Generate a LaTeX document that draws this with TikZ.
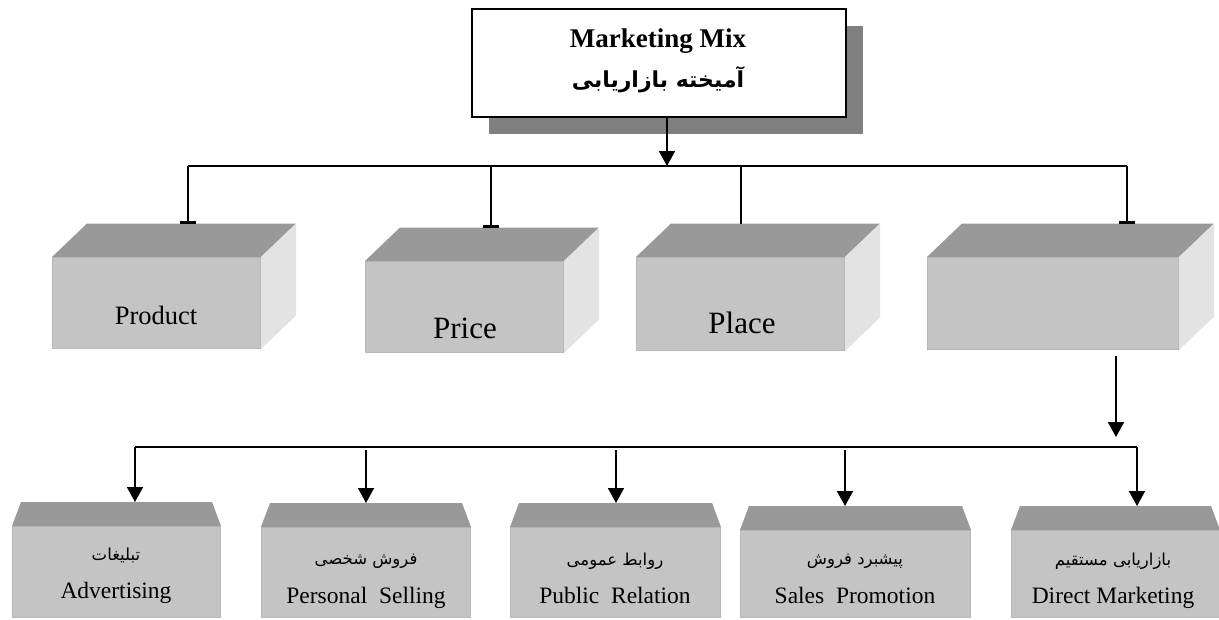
\documentclass[tikz,border=0pt]{standalone}
\usepackage{fontspec}
\setmainfont{Liberation Serif}
\newfontfamily\fa[Script=Arabic]{DejaVu Sans}
\TeXXeTstate=1
\usetikzlibrary{arrows.meta,calc,shadows}
\definecolor{topc}{RGB}{153,153,153}
\definecolor{frontc}{RGB}{196,196,196}
\definecolor{sidec}{RGB}{227,227,227}
\definecolor{shadowc}{RGB}{128,128,128}
\definecolor{edgec}{RGB}{184,184,184}
\tikzset{
  front/.style={fill=frontc, draw=edgec, line width=1pt, inner sep=0pt, anchor=north west},
  conn/.style={line width=1.6pt},
  arr/.style={line width=1.8pt, -{Triangle[width=16pt,length=15pt]}},
  barend/.style={line width=1.6pt, -{Bar[width=16pt,line width=2.4pt]}},
  en/.style={font=\fontsize{23.5}{26}\selectfont, anchor=base, inner sep=0pt},
  fal/.style={font=\fa\fontsize{16.5}{20}\selectfont, inner sep=0pt},
}
\newcommand\mkcube[5]{%
  \node[front, minimum width=#4pt, minimum height=#5pt] (#1) at (#2,#3) {};
  \fill[topc] (#1.north west) -- ++(35,-33.5) -- ($(#1.north east)+(35,-33.5)$) -- (#1.north east) -- cycle;
  \fill[sidec] (#1.north east) -- ++(35,-33.5) -- ($(#1.south east)+(35,-33.5)$) -- (#1.south east) -- cycle;
  \coordinate (#1-back) at ($(#1.north)+(0,-33.5)$);
}
\newcommand\mkbox[5]{%
  \node[front, minimum width=#4pt, minimum height=#5pt] (#1) at (#2,#3) {};
  \fill[topc] (#1.north west) -- ++(9,-24) -- ($(#1.north east)+(-9,-24)$) -- (#1.north east) -- cycle;
  \coordinate (#1-top) at ($(#1.north)+(0,-24)$);
}
\begin{document}
\begin{tikzpicture}[x=1pt,y=-1pt]
\useasboundingbox[fill=white] (0,0) rectangle (1219,619);

% top box
\node[draw, line width=1.8pt, fill=white, minimum width=374pt, minimum height=108pt,
  anchor=north west, drop shadow={shadow xshift=17pt, shadow yshift=-17pt, fill=shadowc, opacity=1}] (mm) at (471,8) {};
\node[font=\bfseries\fontsize{27}{30}\selectfont, anchor=base, inner sep=0pt] (mmen) at (658,47) {Marketing Mix};
\node[font=\fa\bfseries\fontsize{22}{26}\selectfont, inner sep=0pt] (mmfa) at (658,80) {\beginR آمیخته بازاریابی\endR};

% cubes
\mkcube{product}{52}{257}{208}{91}
\mkcube{price}{365}{261}{198}{91}
\mkcube{place}{636}{257}{208}{93}
\mkcube{fourth}{927}{257}{251}{92}
\node[font=\fontsize{26.5}{30}\selectfont, anchor=base, inner sep=0pt] (productt) at (156,324) {Product};
\node[font=\fontsize{31}{34}\selectfont, anchor=base, inner sep=0pt] (pricet) at (465,338) {Price};
\node[font=\fontsize{31}{34}\selectfont, anchor=base, inner sep=0pt] (placet) at (742,333) {Place};

% top connectors
\coordinate (hub) at (667,166);
\coordinate (b1) at (188,166);
\coordinate (b2) at (491,166);
\coordinate (b3) at (741,166);
\coordinate (b4) at (1127,166);
\draw[conn] (b1) -- (b4);
\draw[arr] (mm.south -| hub) -- (hub);
\draw[barend] (b1) -- (b1 |- product-back);
\draw[barend] (b2) -- (b2 |- price-back);
\draw[conn] (b3) -- (b3 |- place-back);
\draw[barend] (b4) -- (b4 |- fourth-back);

% bottom boxes
\mkbox{adv}{12}{526}{208}{91}
\mkbox{ps}{261}{527}{209}{90}
\mkbox{pr}{510}{527}{210}{90}
\mkbox{sp}{740}{530}{230}{87}
\mkbox{dm}{1011}{530}{208}{87}

% lower connectors
\coordinate (d0) at (1116,356);
\coordinate (l1) at (135,447);
\coordinate (l2) at (366,447);
\coordinate (l3) at (616,447);
\coordinate (l4) at (845,447);
\coordinate (l5) at (1137,447);
\draw[arr] (d0) -- ([yshift=10pt]d0 |- l5);
\draw[conn] (l1) -- (l5);
\draw[arr] (l1) -- (l1 |- adv-top);
\draw[arr] ([yshift=-3pt]l2) -- (l2 |- ps-top);
\draw[arr] ([yshift=-3pt]l3) -- (l3 |- pr-top);
\draw[arr] ([yshift=-3pt]l4) -- (l4 |- sp-top);
\draw[arr] (l5) -- (l5 |- dm-top);

% labels
\node[fal] (advfa) at (116,555) {\beginR تبلیغات\endR};
\node[en] (adven) at (116,598) {Advertising};
\node[fal] (psfa) at (366,561) {\beginR فروش شخصی\endR};
\node[en] (psen) at (366,603) {Personal\ \ Selling};
\node[fal] (prfa) at (615,561) {\beginR روابط عمومی\endR};
\node[en] (pren) at (615,603) {Public\ \ Relation};
\node[fal] (spfa) at (855,561) {\beginR پیشبرد فروش\endR};
\node[en] (spen) at (855,603) {Sales\ \ Promotion};
\node[fal] (dmfa) at (1113,561) {\beginR بازاریابی مستقیم\endR};
\node[en] (dmen) at (1113,603) {Direct Marketing};
\end{tikzpicture}
\end{document}
